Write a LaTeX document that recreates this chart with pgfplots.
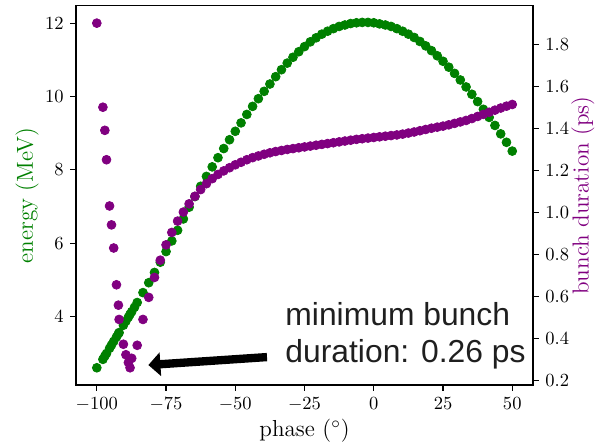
\documentclass[border=0pt]{standalone}
\usepackage{pgfplots}
\pgfplotsset{compat=1.18}
\usepackage{fontspec}
\newfontfamily\annfont{Liberation Sans}
\usetikzlibrary{arrows.meta}
\definecolor{mgreen}{HTML}{008000}
\definecolor{mpurple}{HTML}{800080}

\pgfplotstableread{
phase energy
-100.00 2.60
-97.80 2.83
-97.10 2.92
-96.50 2.99
-95.40 3.13
-94.70 3.22
-93.90 3.32
-92.90 3.44
-92.20 3.53
-91.95 3.56
-90.40 3.76
-89.50 3.87
-88.60 3.98
-88.00 4.06
-87.40 4.13
-86.40 4.25
-85.42 4.38
-83.33 4.65
-81.25 4.92
-79.17 5.20
-77.08 5.48
-75.00 5.77
-72.92 6.06
-70.83 6.35
-68.75 6.66
-66.67 6.98
-64.58 7.27
-62.50 7.55
-60.42 7.82
-58.33 8.08
-56.25 8.33
-54.17 8.58
-52.08 8.82
-50.00 9.05
-47.92 9.28
-45.83 9.51
-43.75 9.73
-41.67 9.94
-39.58 10.14
-37.50 10.34
-35.42 10.54
-33.33 10.73
-31.25 10.91
-29.17 11.07
-27.08 11.22
-25.00 11.36
-22.92 11.49
-20.83 11.60
-18.75 11.70
-16.67 11.78
-14.58 11.85
-12.50 11.91
-10.42 11.95
-8.33 11.99
-6.25 12.01
-4.17 12.02
-2.08 12.02
0.00 12.01
2.08 11.98
4.17 11.95
6.25 11.91
8.33 11.85
10.42 11.78
12.50 11.70
14.58 11.61
16.67 11.50
18.75 11.38
20.83 11.25
22.92 11.11
25.00 10.96
27.08 10.80
29.17 10.63
31.25 10.45
33.33 10.26
35.42 10.06
37.50 9.86
39.58 9.65
41.67 9.43
43.75 9.21
45.83 8.98
47.92 8.75
50.00 8.51
}\energytable

\pgfplotstableread{
phase dur
-100.00 1.900
-97.80 1.500
-97.10 1.390
-96.50 1.250
-95.40 1.030
-94.70 0.940
-93.90 0.830
-92.90 0.655
-92.20 0.558
-91.95 0.490
-90.40 0.372
-89.50 0.322
-88.60 0.285
-88.00 0.260
-87.40 0.305
-85.42 0.367
-83.33 0.490
-81.25 0.595
-79.17 0.690
-77.08 0.772
-75.00 0.845
-72.92 0.904
-70.83 0.958
-68.75 1.001
-66.67 1.040
-64.58 1.076
-62.50 1.108
-60.42 1.136
-58.33 1.160
-56.25 1.180
-54.17 1.197
-52.08 1.212
-50.00 1.226
-47.92 1.238
-45.83 1.250
-43.75 1.260
-41.67 1.268
-39.58 1.276
-37.50 1.283
-35.42 1.289
-33.33 1.294
-31.25 1.299
-29.17 1.303
-27.08 1.307
-25.00 1.311
-22.92 1.315
-20.83 1.319
-18.75 1.323
-16.67 1.327
-14.58 1.331
-12.50 1.335
-10.42 1.339
-8.33 1.343
-6.25 1.347
-4.17 1.350
-2.08 1.353
0.00 1.356
2.08 1.359
4.17 1.362
6.25 1.365
8.33 1.368
10.42 1.372
12.50 1.377
14.58 1.382
16.67 1.388
18.75 1.394
20.83 1.400
22.92 1.405
25.00 1.410
27.08 1.416
29.17 1.423
31.25 1.430
33.33 1.437
35.42 1.446
37.50 1.456
39.58 1.466
41.67 1.476
43.75 1.486
45.83 1.496
47.92 1.505
50.00 1.513
}\durtable

\begin{document}
\begin{tikzpicture}
\useasboundingbox (-41.1pt,-33pt) rectangle (280.5pt,208.1pt);
\begin{axis}[
  scale only axis, width=247pt, height=204.9pt,
  xmin=-107.5, xmax=57.5, ymin=2.13, ymax=12.47,
  tick pos=left, tick align=outside, major tick length=3.2pt,
  xtick={-100,-75,-50,-25,0,25,50},
  ytick={4,6,8,10,12},
  axis line style={line width=0.6pt},
  every tick/.style={black, line width=0.6pt},
  label style={font=\fontsize{12.5}{15}\selectfont},
  xlabel={phase ($^\circ$)},
  ylabel={energy (MeV)},
  ylabel style={text=mgreen, at={(axis description cs:-0.107,0.5)}, anchor=center},
  xlabel style={at={(axis description cs:0.5,-0.137)}, anchor=base},
]
\addplot[only marks, mark=*, mark size=2.4pt, color=mgreen, mark options={fill=mgreen, draw=mgreen}] table[x=phase, y=energy] {\energytable};
\end{axis}
\begin{axis}[
  scale only axis, width=247pt, height=204.9pt,
  xmin=-107.5, xmax=57.5, ymin=0.178, ymax=1.982,
  axis x line=none, axis y line*=right,
  tick align=outside, major tick length=3.2pt,
  ytick={0.2,0.4,0.6,0.8,1.0,1.2,1.4,1.6,1.8},
  yticklabel style={/pgf/number format/.cd, fixed, fixed zerofill, precision=1},
  axis line style={line width=0.6pt},
  every tick/.style={black, line width=0.6pt},
  label style={font=\fontsize{12.5}{15}\selectfont},
  ylabel={bunch duration (ps)},
  ylabel style={text=mpurple, at={(axis description cs:1.109,0.5)}, anchor=center},
]
\addplot[only marks, mark=*, mark size=2.4pt, color=mpurple, mark options={fill=mpurple, draw=mpurple}] table[x=phase, y=dur] {\durtable};
\end{axis}
\draw[line width=4.5pt, black, -{Triangle[length=6.5pt,width=12.5pt]}] (103.2pt,15.1pt) -- (39.1pt,10.8pt);
\node[anchor=base west, inner sep=0pt, font=\annfont\fontsize{17.2}{20.5}\selectfont, text=black!88] at (113pt,32.4pt) {minimum bunch};
\node[anchor=base west, inner sep=0pt, font=\annfont\fontsize{17.2}{20.5}\selectfont, text=black!88] at (113pt,11.9pt) {duration: 0.26 ps};
\end{tikzpicture}
\end{document}
